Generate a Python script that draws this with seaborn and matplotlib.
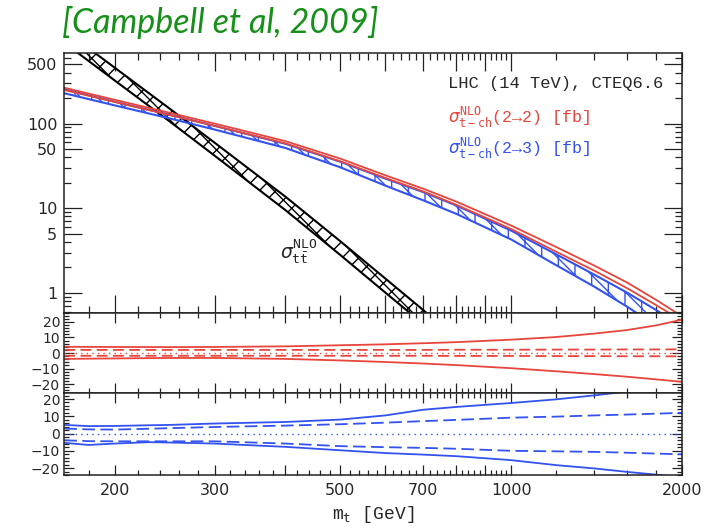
import seaborn as sns
import matplotlib.pyplot as plt
from matplotlib import ticker

# ttbar band (upper / lower edge)
mt_tt = [163, 175, 200, 250, 300, 400, 500, 600, 700, 750]
tt_hi = [1270, 891, 457, 150, 59.5, 13.7, 4.07, 1.48, 0.627, 0.42]
tt_lo = [890, 630, 323, 106, 41.8, 9.5, 2.80, 1.01, 0.429, 0.287]

# t-channel bands
mt = [163, 200, 250, 300, 400, 500, 600, 700, 800, 1000, 1200, 1400, 1600, 1800, 2000]
red_hi = [265, 191, 134, 100, 62, 38.5, 24.5, 17.0, 12.0, 6.25, 3.49, 2.11, 1.33, 0.83, 0.53]
red_lo = [249, 180, 126, 94, 58.3, 35.8, 22.8, 15.8, 11.0, 5.69, 3.07, 1.84, 1.14, 0.72, 0.47]
blue_hi = [254, 181, 127, 94, 57.7, 35.4, 22.4, 15.5, 10.8, 5.44, 2.86, 1.65, 1.01, 0.63, 0.40]
blue_lo = [228, 164, 115, 85, 51.5, 30.4, 18.5, 12.4, 8.6, 4.28, 2.13, 1.19, 0.69, 0.41, 0.24]

# relative uncertainties [%], 2->2
red_scale_up = [4.0, 3.9, 3.8, 3.9, 4.3, 5.0, 5.6, 6.3, 7.0, 8.6, 10.3, 12.5, 14.8, 17.8, 21.5]
red_scale_dn = [-3.8, -3.5, -3.2, -3.2, -3.8, -4.8, -5.8, -6.8, -7.8, -9.8, -11.8, -13.6, -15.3, -17.0, -18.6]
red_pdf_up = [2.0, 2.0, 2.0, 2.0, 2.0, 2.0, 2.0, 2.0, 2.1, 2.1, 2.2, 2.2, 2.3, 2.3, 2.4]
red_pdf_dn = [-1.8, -1.8, -1.8, -1.8, -1.8, -1.8, -1.8, -1.8, -1.9, -1.9, -2.0, -2.0, -2.1, -2.1, -2.2]

# relative uncertainties [%], 2->3
mt_b = [163, 180, 200, 230, 250, 300, 400, 500, 600, 700, 800, 1000, 1200, 1400, 1600, 1800, 2000]
blue_scale_up = [5.0, 4.3, 4.4, 4.8, 5.0, 5.8, 6.7, 8.1, 10.5, 13.8, 15.4, 17.7, 19.8, 22.1, 24.3, 26.5, 29.0]
blue_scale_dn = [-5.4, -6.6, -5.8, -5.0, -5.2, -5.8, -7.7, -9.7, -11.3, -12.2, -13.1, -15.4, -18.3, -20.2, -22.2, -23.8, -25.5]
blue_pdf_up = [2.9, 2.4, 2.3, 2.8, 3.1, 3.8, 4.6, 5.4, 6.3, 7.2, 7.9, 9.2, 9.8, 10.5, 11.0, 11.5, 12.0]
blue_pdf_dn = [-3.9, -4.4, -4.5, -4.5, -4.5, -4.5, -5.8, -7.3, -7.9, -8.3, -8.8, -10.0, -10.3, -10.6, -11.1, -11.6, -12.0]

x_major = [200, 300, 400, 500, 600, 700, 800, 900, 1000, 2000]
x_labels = ['200', '300', '', '500', '', '700', '', '', '1000', '2000']
x_minor = [m for m in range(180, 1000, 20) if m % 100] + [1200, 1400, 1600, 1800]

sns.set_theme(style='ticks')
plt.rcParams['font.family'] = ['DejaVu Sans']
plt.rcParams['mathtext.fontset'] = 'dejavusans'
plt.rcParams['hatch.linewidth'] = 1.0
plt.rcParams['axes.linewidth'] = 1.1
plt.rcParams['axes.edgecolor'] = '#222222'

RED = '#e8453c'
BLUE = '#3352ee'
GREEN = '#17901a'
MONO = ['Liberation Mono', 'DejaVu Sans Mono']

fig = plt.figure(figsize=(7.11, 5.29), dpi=100)
ax1 = fig.add_axes([0.0904, 0.4089, 0.8688, 0.4904])
ax2 = fig.add_axes([0.0904, 0.2565, 0.8688, 0.1524])
ax3 = fig.add_axes([0.0904, 0.1021, 0.8688, 0.1544])

for ax in (ax1, ax2, ax3):
    ax.set_xscale('log')
ax1.set_yscale('log')

# main panel
ax1.fill_between(mt_tt, tt_lo, tt_hi, facecolor='none', edgecolor='black', hatch='xx', linewidth=0)
ax1.fill_between(mt, blue_lo, blue_hi, facecolor='none', edgecolor=BLUE, hatch='|' + '\\' * 2, linewidth=0)
for ys in (tt_hi, tt_lo):
    sns.lineplot(x=mt_tt, y=ys, ax=ax1, color='black', lw=1.5)
for ys in (blue_hi, blue_lo):
    sns.lineplot(x=mt, y=ys, ax=ax1, color=BLUE, lw=1.5)
for ys in (red_hi, red_lo):
    sns.lineplot(x=mt, y=ys, ax=ax1, color=RED, lw=1.3)

ax1.set_xlim(163, 2000)
ax1.set_ylim(0.585, 676)

ax1.text(423, 3.1, r'$\sigma^{\mathtt{NLO}}_{\mathtt{t\bar{t}}}$', fontsize=13.5, ha='center', va='center')
ax1.text(0.621, 0.882, 'LHC (14 TeV), CTEQ6.6', transform=ax1.transAxes,
         fontsize=12.3, family=MONO, va='center', ha='left')
ax1.text(0.621, 0.754, r'$\sigma^{\mathtt{NLO}}_{\mathtt{t-ch}}$(2→2) [fb]', transform=ax1.transAxes,
         fontsize=12, family=MONO, color=RED, va='center', ha='left')
ax1.text(0.621, 0.635, r'$\sigma^{\mathtt{NLO}}_{\mathtt{t-ch}}$(2→3) [fb]', transform=ax1.transAxes,
         fontsize=12, family=MONO, color=BLUE, va='center', ha='left')

# ratio panels
sns.lineplot(x=mt, y=red_scale_up, ax=ax2, color=RED, lw=1.3)
sns.lineplot(x=mt, y=red_scale_dn, ax=ax2, color=RED, lw=1.3)
sns.lineplot(x=mt, y=red_pdf_up, ax=ax2, color=RED, lw=1.3, linestyle=(0, (6, 3)))
sns.lineplot(x=mt, y=red_pdf_dn, ax=ax2, color=RED, lw=1.3, linestyle=(0, (6, 3)))
ax2.axhline(0, color=RED, lw=1.0, linestyle=(0, (1, 3)))

sns.lineplot(x=mt_b, y=blue_scale_up, ax=ax3, color=BLUE, lw=1.3)
sns.lineplot(x=mt_b, y=blue_scale_dn, ax=ax3, color=BLUE, lw=1.3)
sns.lineplot(x=mt_b, y=blue_pdf_up, ax=ax3, color=BLUE, lw=1.3, linestyle=(0, (7, 3)))
sns.lineplot(x=mt_b, y=blue_pdf_dn, ax=ax3, color=BLUE, lw=1.3, linestyle=(0, (7, 3)))
ax3.axhline(0, color=BLUE, lw=1.0, linestyle=(0, (1, 3)))

ax2.set_ylim(-26, 26)
ax3.set_ylim(-24, 23.3)

for ax in (ax1, ax2, ax3):
    ax.set_xlim(163, 2000)
    ax.xaxis.set_major_locator(ticker.FixedLocator(x_major))
    ax.xaxis.set_minor_locator(ticker.FixedLocator(x_minor))
    ax.xaxis.set_major_formatter(ticker.FixedFormatter(x_labels))
    ax.xaxis.set_minor_formatter(ticker.NullFormatter())
    ax.set_xlabel('')
    ax.set_ylabel('')

ax1.yaxis.set_major_locator(ticker.FixedLocator([1, 5, 10, 50, 100, 500]))
ax1.yaxis.set_major_formatter(ticker.FixedFormatter(['1', '5', '10', '50', '100', '500']))
ax1.yaxis.set_minor_locator(ticker.LogLocator(base=10, subs=(2, 3, 4, 6, 7, 8, 9), numticks=20))
ax1.yaxis.set_minor_formatter(ticker.NullFormatter())
ax1.tick_params(which='major', direction='in', length=13, width=0.9, top=True, right=True,
                labelsize=11.5, pad=5, color='#222222')
ax1.tick_params(which='minor', direction='in', length=5, width=0.9, top=True, right=True, color='#222222')
ax1.tick_params(axis='x', labelbottom=False)

for ax in (ax2, ax3):
    ax.yaxis.set_major_locator(ticker.MultipleLocator(10))
    ax.yaxis.set_minor_locator(ticker.MultipleLocator(2))
    ax.tick_params(which='major', direction='in', length=7, width=0.9, top=True, right=True,
                   labelsize=10, pad=3, color='#222222')
    ax.tick_params(which='minor', direction='in', length=3.5, width=0.9, top=True, right=True,
                   color='#222222')
ax2.tick_params(axis='x', labelbottom=False)
ax3.tick_params(axis='x', labelsize=11.5, pad=6)

ax3.set_xlabel(r'm$_{\mathtt{t}}$ [GeV]', fontsize=13, family=MONO, labelpad=4)

fig.text(0.087, 0.958, '[Campbell et al, 2009]', color=GREEN, fontsize=24.5,
         family='Lato', style='italic', va='center')

fig.savefig('out.png', dpi=100)
